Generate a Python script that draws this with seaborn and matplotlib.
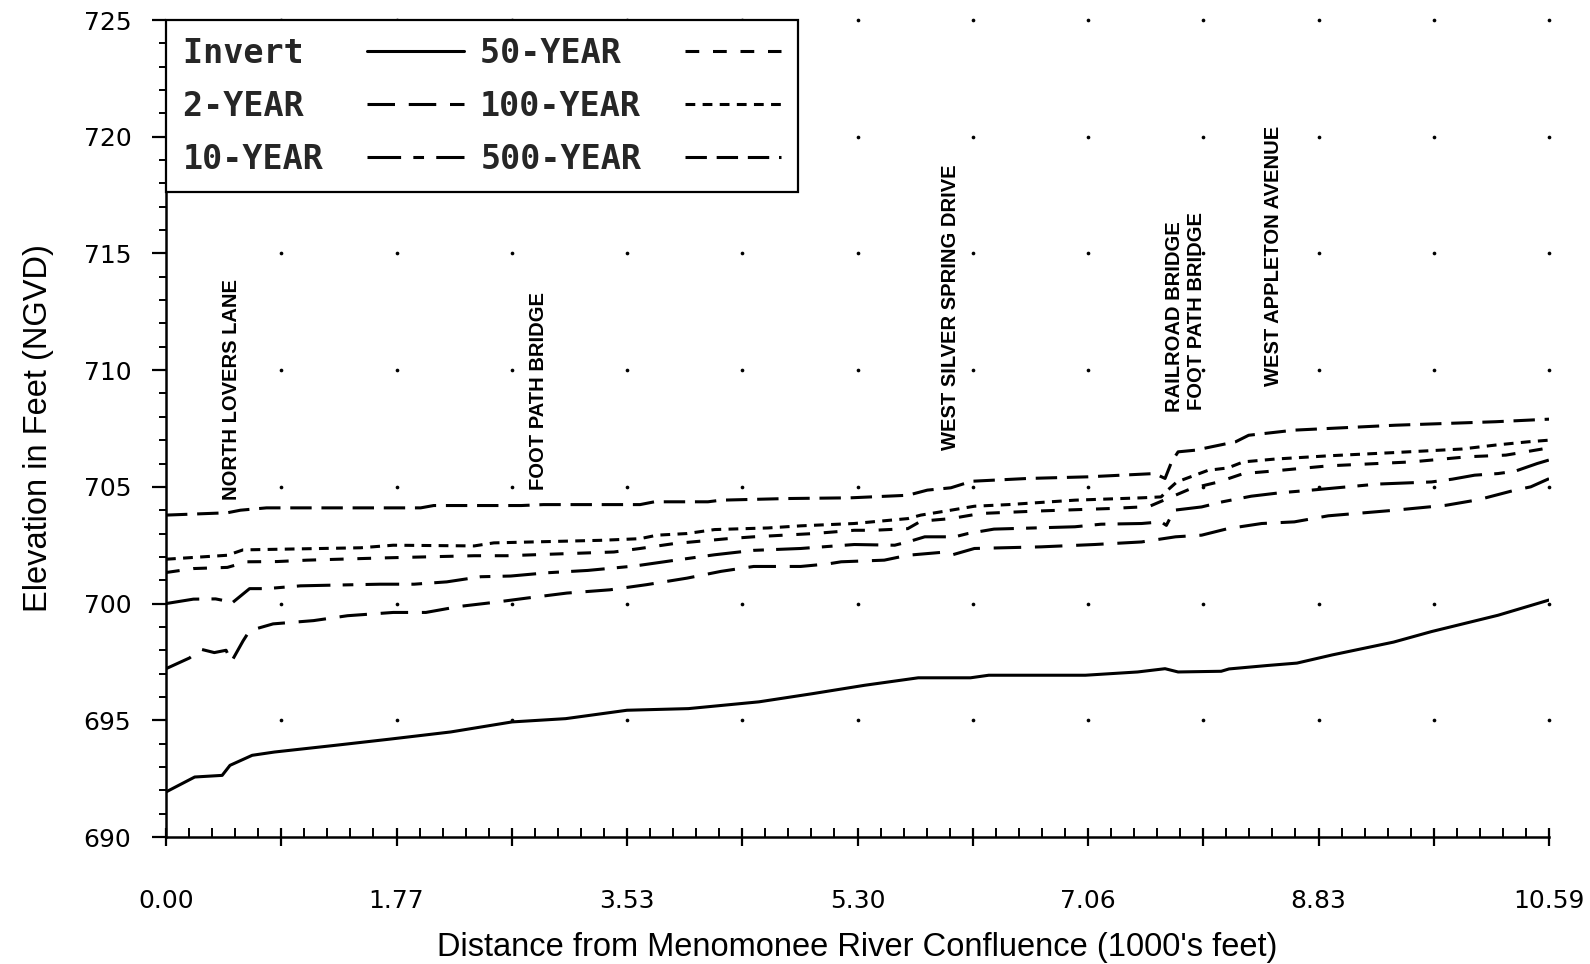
import numpy as np
import pandas as pd
import matplotlib
matplotlib.use("Agg")
import matplotlib.pyplot as plt
import seaborn as sns
from matplotlib.ticker import FixedLocator, MultipleLocator
from matplotlib.font_manager import FontProperties

# ---------------- data ----------------
invert_x = [0.00, 0.22, 0.43, 0.49, 0.66, 0.83, 1.30, 1.71, 2.18, 2.65, 3.06, 3.53, 4.00, 4.54,
            4.95, 5.35, 5.76, 6.16, 6.30, 7.04, 7.44, 7.65, 7.75, 8.08, 8.14, 8.44, 8.66, 8.93,
            9.40, 9.69, 10.20, 10.59]
invert_y = [691.93, 692.57, 692.64, 693.07, 693.50, 693.64, 693.93, 694.19, 694.50, 694.93,
            695.07, 695.43, 695.50, 695.79, 696.14, 696.50, 696.82, 696.82, 696.93, 696.93,
            697.07, 697.21, 697.07, 697.10, 697.20, 697.35, 697.45, 697.80, 698.35, 698.80,
            699.50, 700.15]

yr2_x = [0.00, 0.18, 0.27, 0.37, 0.46, 0.50, 0.59, 0.64, 0.82, 1.13, 1.39, 1.74, 1.99, 2.25,
         2.51, 2.77, 3.07, 3.40, 3.68, 3.99, 4.25, 4.50, 4.86, 5.07, 5.17, 5.50, 5.68, 5.93,
         6.01, 6.19, 6.70, 7.11, 7.47, 7.73, 7.93, 8.13, 8.39, 8.64, 8.90, 9.41, 9.80, 10.05,
         10.33, 10.45, 10.59]
yr2_y = [697.21, 697.67, 698.04, 697.90, 698.00, 697.50, 698.40, 698.84, 699.13, 699.27,
         699.48, 699.62, 699.62, 699.88, 700.05, 700.24, 700.45, 700.59, 700.81, 701.09,
         701.38, 701.59, 701.59, 701.70, 701.79, 701.86, 702.07, 702.19, 702.07, 702.36,
         702.43, 702.53, 702.64, 702.86, 702.93, 703.21, 703.43, 703.50, 703.76, 704.00,
         704.21, 704.45, 704.86, 705.00, 705.35]

yr10_x = [0.00, 0.21, 0.38, 0.47, 0.50, 0.64, 0.77, 1.03, 1.28, 1.64, 1.90, 2.15, 2.41, 2.64,
          2.92, 3.23, 3.59, 3.89, 4.20, 4.50, 4.86, 5.27, 5.58, 5.68, 5.81, 6.04, 6.14, 6.34,
          6.96, 7.16, 7.47, 7.62, 7.66, 7.72, 7.93, 8.09, 8.31, 8.52, 8.77, 9.28, 9.69, 9.85,
          10.02, 10.20, 10.33, 10.50, 10.59]
yr10_y = [700.00, 700.19, 700.20, 700.10, 700.00, 700.64, 700.64, 700.76, 700.79, 700.83,
          700.83, 700.93, 701.15, 701.18, 701.32, 701.42, 701.61, 701.85, 702.09, 702.28,
          702.36, 702.53, 702.50, 702.64, 702.86, 702.86, 703.00, 703.19, 703.29, 703.40,
          703.43, 703.50, 703.35, 704.00, 704.14, 704.36, 704.60, 704.74, 704.86, 705.12,
          705.21, 705.33, 705.50, 705.57, 705.67, 706.00, 706.15]

yr50_x = [0.00, 0.21, 0.47, 0.62, 0.85, 1.08, 1.69, 2.36, 2.61, 3.43, 3.63, 3.89, 4.30, 4.50,
          4.96, 5.27, 5.42, 5.68, 5.78, 6.01, 6.24, 6.70, 7.22, 7.47, 7.52, 7.67, 7.85, 8.06,
          8.25, 8.46, 8.90, 9.54, 9.97, 10.26, 10.41, 10.59]
yr50_y = [701.33, 701.50, 701.55, 701.79, 701.80, 701.86, 701.96, 702.05, 702.05, 702.21,
          702.36, 702.57, 702.78, 702.86, 703.00, 703.14, 703.14, 703.21, 703.53, 703.64,
          703.86, 703.97, 704.07, 704.14, 704.14, 704.50, 704.93, 705.21, 705.57, 705.67,
          705.90, 706.07, 706.29, 706.36, 706.50, 706.67]

yr100_x = [0.00, 0.47, 0.59, 1.49, 1.74, 2.36, 2.51, 3.33, 3.63, 3.76, 3.99, 4.20, 4.61, 4.86,
           5.27, 5.68, 5.78, 6.01, 6.19, 6.45, 6.96, 7.47, 7.62, 7.67, 7.74, 7.98, 8.13, 8.25,
           8.49, 8.90, 9.41, 9.92, 10.18, 10.43, 10.59]
yr100_y = [701.90, 702.07, 702.30, 702.39, 702.50, 702.47, 702.60, 702.71, 702.78, 702.93,
           703.00, 703.17, 703.24, 703.33, 703.43, 703.64, 703.79, 704.00, 704.17, 704.24,
           704.43, 704.53, 704.57, 704.86, 705.21, 705.71, 705.81, 706.07, 706.19, 706.33,
           706.47, 706.62, 706.79, 706.93, 707.00]

yr500_x = [0.00, 0.47, 0.57, 0.77, 1.95, 2.05, 2.72, 2.89, 3.63, 3.74, 4.15, 4.25, 4.76, 5.24,
           5.68, 5.83, 6.01, 6.17, 6.60, 7.06, 7.57, 7.65, 7.70, 7.75, 7.88, 8.19, 8.29, 8.64,
           9.41, 10.18, 10.59]
yr500_y = [703.79, 703.89, 704.00, 704.10, 704.10, 704.20, 704.20, 704.24, 704.24, 704.36,
           704.36, 704.43, 704.50, 704.53, 704.64, 704.86, 704.96, 705.24, 705.36, 705.43,
           705.57, 705.36, 706.07, 706.50, 706.57, 706.93, 707.21, 707.43, 707.64, 707.79,
           707.90]

profile_names = ["Invert", "2-YEAR", "10-YEAR", "50-YEAR", "100-YEAR", "500-YEAR"]
legend_labels = ["Invert ", "2-YEAR ", "10-YEAR", "50-YEAR ", "100-YEAR", "500-YEAR"]

site_names = ["NORTH LOVERS LANE", "FOOT PATH BRIDGE", "WEST SILVER SPRING DRIVE",
              "RAILROAD BRIDGE", "FOOT PATH BRIDGE", "WEST APPLETON AVENUE"]
site_x = [0.50, 2.85, 6.01, 7.72, 7.89, 8.48]
site_y = [704.45, 704.85, 706.60, 708.22, 708.30, 709.30]

x_max = 10.59
x_tick_labels = ["0.00", "", "1.77", "", "3.53", "", "5.30", "", "7.06", "", "8.83", "", "10.59"]
x_label = "Distance from Menomonee River Confluence (1000's feet)"
y_label = "Elevation in Feet (NGVD)"

# ---------------- figure ----------------
sns.set_theme(style="white")
plt.rcParams["font.family"] = ["DejaVu Sans"]

fig = plt.figure(figsize=(15.9, 9.64), dpi=100)
ax = fig.add_axes([166 / 1590, 1 - 837 / 964, (1549 - 166) / 1590, (837 - 20) / 964])

series = [invert_x, yr2_x, yr10_x, yr50_x, yr100_x, yr500_x]
values = [invert_y, yr2_y, yr10_y, yr50_y, yr100_y, yr500_y]
df = pd.concat(
    [pd.DataFrame({"dist": xs, "elev": ys, "profile": nm})
     for nm, xs, ys in zip(profile_names, series, values)],
    ignore_index=True,
)

dash_map = {
    "Invert": "",
    "2-YEAR": (9, 4.5),
    "10-YEAR": (11, 4, 3.5, 4),
    "50-YEAR": (4.5, 4.5),
    "100-YEAR": (3.2, 2.4),
    "500-YEAR": (7.0, 3.2),
}

sns.lineplot(data=df, x="dist", y="elev", style="profile", style_order=profile_names,
             dashes=dash_map, color="black", linewidth=2.2, estimator=None, sort=False,
             legend=False, ax=ax)

# grid dots at major intersections
major_x = np.linspace(0, x_max, 13)
dot_y = np.arange(695, 726, 5)
gx, gy = np.meshgrid(major_x[1:], dot_y)
ax.scatter(gx.ravel(), gy.ravel(), s=7, color="black", linewidths=0, zorder=1, clip_on=False)

ax.set_xlim(0, x_max)
ax.set_ylim(690, 725)
ax.xaxis.set_major_locator(FixedLocator(major_x))
ax.set_xticklabels(x_tick_labels)
ax.xaxis.set_minor_locator(FixedLocator(np.linspace(0, x_max, 61)))
ax.yaxis.set_major_locator(MultipleLocator(5))
ax.yaxis.set_minor_locator(MultipleLocator(1))

ax.tick_params(axis="x", which="major", direction="inout", length=13, width=1.6,
               pad=31, labelsize=18, colors="black")
ax.tick_params(axis="x", which="minor", direction="in", length=6.5, width=1.4, colors="black")
ax.tick_params(axis="y", which="major", direction="out", length=10, width=1.6,
               pad=15, labelsize=18, colors="black")
ax.tick_params(axis="y", which="minor", direction="out", length=5, width=1.4, colors="black")
ax.tick_params(bottom=True, left=True, which="both")

for s in ["top", "right"]:
    ax.spines[s].set_visible(False)
for s in ["left", "bottom"]:
    ax.spines[s].set_color("black")
    ax.spines[s].set_linewidth(1.8)

ax.set_xlabel(x_label, fontsize=23.5, family="Liberation Sans", labelpad=13.5, color="black")
ax.set_ylabel(y_label, fontsize=23.5, family="Liberation Sans", labelpad=21, color="black")

for name, x, yb in zip(site_names, site_x, site_y):
    ax.text(x, yb, name, rotation=90, ha="center", va="bottom", fontsize=14.5,
            fontweight="bold", family="Liberation Sans", color="black")

handles = ax.get_lines()
leg = ax.legend(handles, legend_labels, loc="upper left", bbox_to_anchor=(0, 1), ncol=2,
                markerfirst=False, frameon=True, fancybox=False, edgecolor="black",
                framealpha=1, borderaxespad=0,
                prop=FontProperties(family="DejaVu Sans Mono", weight="bold", size=24),
                handlelength=2.9, handletextpad=1.3, columnspacing=0.5,
                labelspacing=0.6, borderpad=0.5)
leg.get_frame().set_linewidth(1.6)

fig.savefig("out.png", dpi=100, facecolor="white")
